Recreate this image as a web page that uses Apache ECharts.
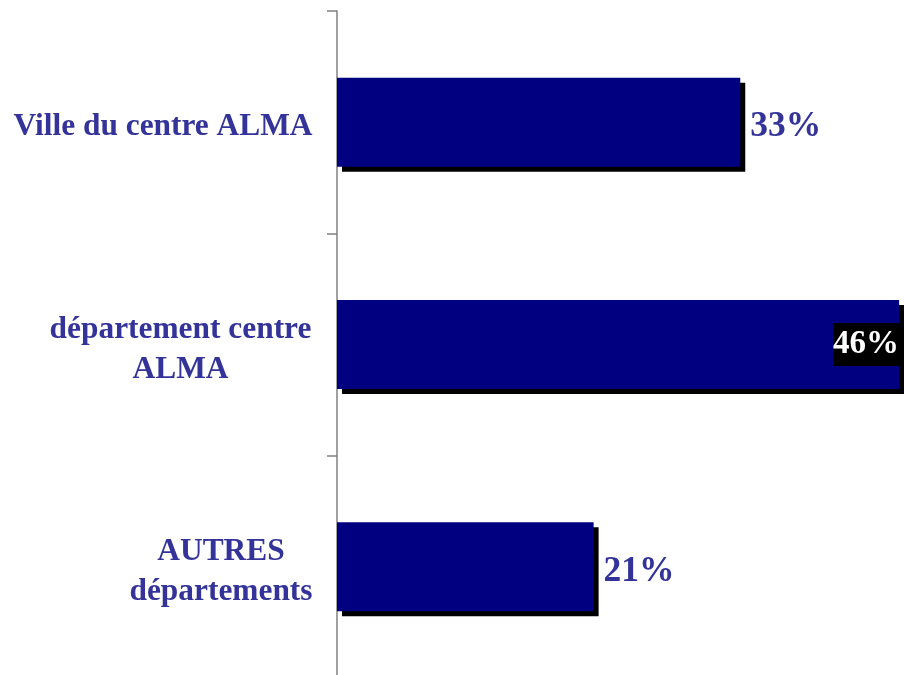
<!DOCTYPE html>
<html>
<head>
<meta charset="utf-8">
<script src="https://cdn.jsdelivr.net/npm/echarts@6/dist/echarts.min.js"></script>
<style>
  html, body { margin: 0; padding: 0; background: #fff; }
  #chart { width: 904px; height: 675px; }
</style>
</head>
<body>
<div id="chart"></div>
<script>
// data
const categories = ['Ville du centre ALMA', 'département centre\nALMA', 'AUTRES\ndépartements'];
const shares = [33, 46, 21];
const xMax = 46.4;

const serif = "'Liberation Serif', 'Times New Roman', serif";
const labelBlue = '#333399';

// each category label block is centred on its own width, right edge near the axis
const richWidths = [300, 265, 184];

var chartDom = document.getElementById('chart');
var myChart = echarts.init(chartDom);
var option;

function richStyle(w) {
    return { width: w, align: 'center', color: labelBlue, fontFamily: serif, fontWeight: 'bold', fontSize: 31.4, lineHeight: 40 };
}

option = {
    animation: false,
    grid: {
        left: 337,
        right: 0,
        top: 11,
        height: 667,
        containLabel: false,
        outerBoundsMode: 'none'
    },
    xAxis: {
        type: 'value',
        show: false,
        min: 0,
        max: xMax,
        splitLine: { show: false }
    },
    yAxis: {
        type: 'category',
        inverse: true,
        data: categories,
        axisLine: {
            show: true,
            lineStyle: { color: '#808080', width: 1.5 }
        },
        axisTick: {
            show: true,
            length: 10,
            lineStyle: { color: '#808080', width: 1.5 }
        },
        axisLabel: {
            margin: 24,
            padding: [10, 0, 0, 0],
            formatter: function (value, idx) {
                return value.split('\n').map(function (line) {
                    return '{c' + idx + '|' + line + '}';
                }).join('\n');
            },
            rich: {
                c0: richStyle(richWidths[0]),
                c1: richStyle(richWidths[1]),
                c2: richStyle(richWidths[2])
            }
        }
    },
    series: [
        {
            type: 'bar',
            barWidth: 89,
            itemStyle: {
                color: '#000080',
                shadowColor: '#000',
                shadowBlur: 0,
                shadowOffsetX: 5,
                shadowOffsetY: 5
            },
            label: {
                show: true,
                position: 'right',
                distance: 10,
                offset: [0, 5],
                formatter: '{c}%',
                color: labelBlue,
                fontFamily: serif,
                fontWeight: 'bold',
                fontSize: 35.5
            },
            data: shares.map(function (v, i) {
                if (i === 1) {
                    return {
                        value: v,
                        label: {
                            position: 'insideRight',
                            distance: 0,
                            offset: [0, 0],
                            fontSize: 33,
                            color: '#fff',
                            backgroundColor: '#000',
                            padding: [6, 0, 4, 0]
                        }
                    };
                }
                return v;
            })
        }
    ]
};

option && myChart.setOption(option);
window.addEventListener('resize', function () {
    myChart.resize();
});
</script>
</body>
</html>
